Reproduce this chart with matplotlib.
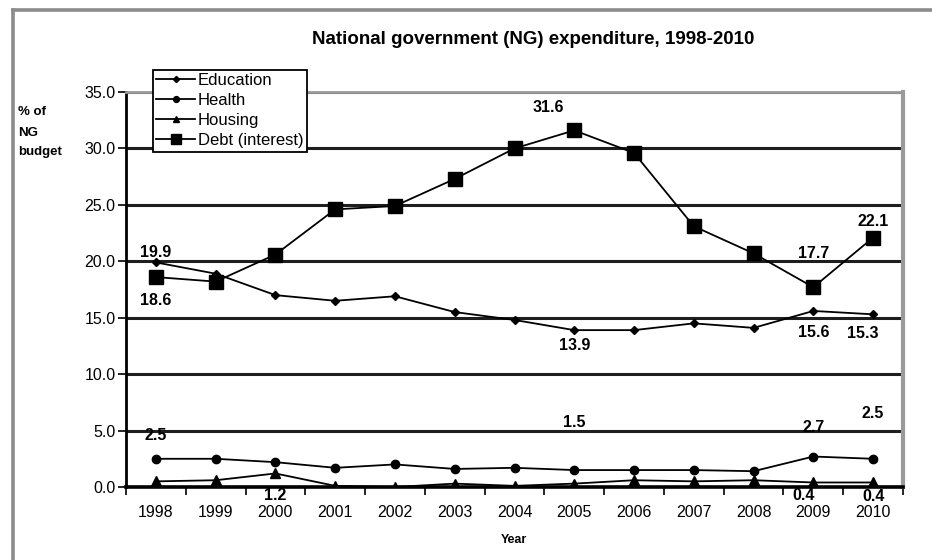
import matplotlib
matplotlib.use("Agg")
import matplotlib.pyplot as plt
from matplotlib.lines import Line2D

plt.rcParams['font.family'] = ['Liberation Sans', 'DejaVu Sans']

years = [1998, 1999, 2000, 2001, 2002, 2003, 2004, 2005, 2006, 2007, 2008, 2009, 2010]
education = [19.9, 18.9, 17.0, 16.5, 16.9, 15.5, 14.8, 13.9, 13.9, 14.5, 14.1, 15.6, 15.3]
health = [2.5, 2.5, 2.2, 1.7, 2.0, 1.6, 1.7, 1.5, 1.5, 1.5, 1.4, 2.7, 2.5]
housing = [0.5, 0.6, 1.2, 0.1, 0.0, 0.3, 0.1, 0.3, 0.6, 0.5, 0.6, 0.4, 0.4]
debt = [18.6, 18.2, 20.6, 24.6, 24.9, 27.3, 30.0, 31.6, 29.6, 23.1, 20.7, 17.7, 22.1]
y_ticks = [0, 5, 10, 15, 20, 25, 30, 35]

# labelled points: (series, year, pixel offset of label centre)
labels = [
    (education, 1998, (0, 10)),
    (debt, 1998, (0, -23)),
    (debt, 2005, (-26, 23)),
    (education, 2005, (0, -15)),
    (debt, 2009, (0, 34)),
    (debt, 2010, (0, 16)),
    (education, 2009, (0, -22)),
    (education, 2010, (-10, -19)),
    (health, 1998, (0, 23)),
    (health, 2005, (0, 48)),
    (health, 2009, (0, 29)),
    (health, 2010, (0, 45)),
    (housing, 2000, (0, -22)),
    (housing, 2009, (-10, -13)),
    (housing, 2010, (0, -14)),
]

W, H = 932, 560
fig = plt.figure(figsize=(W / 100, H / 100), dpi=100)

# outer chart frame (left and top edges)
fig.add_artist(Line2D([13 / W, 13 / W], [0, 1 - 10 / H], transform=fig.transFigure,
                      color='#8c8c8c', lw=2.6))
fig.add_artist(Line2D([13 / W, 1], [1 - 10 / H, 1 - 10 / H], transform=fig.transFigure,
                      color='#8c8c8c', lw=2.6))

left, right, bottom, top = 126, 903, 487, 92
ax = fig.add_axes([left / W, 1 - bottom / H, (right - left) / W, (bottom - top) / H])

ax.set_xlim(1997.5, 2010.5)
ax.set_ylim(0, 35)

for v in y_ticks[1:]:
    ax.axhline(v, color='#1e1e1e', lw=2.2, zorder=1)

ax.plot(years, education, color='black', lw=1.3, marker='D', ms=4.5, zorder=3, label='Education')
ax.plot(years, health, color='black', lw=1.3, marker='o', ms=6, zorder=3, label='Health')
ax.plot(years, housing, color='black', lw=1.3, marker='^', ms=6.5, zorder=3, label='Housing')
ax.plot(years, debt, color='black', lw=1.3, marker='s', ms=10, zorder=3, label='Debt (interest)')

for series, yr, (dx, dy) in labels:
    val = series[years.index(yr)]
    ax.annotate(f"{val:.1f}", (yr, val), xytext=(dx, dy), textcoords='offset pixels',
                ha='center', va='center', fontsize=11.5, fontweight='bold', zorder=5)

# spines
ax.spines['left'].set_color('black')
ax.spines['left'].set_linewidth(2.0)
ax.spines['bottom'].set_color('black')
ax.spines['bottom'].set_linewidth(2.6)
ax.spines['bottom'].set_zorder(4)
ax.spines['right'].set_color('#9a9a9a')
ax.spines['right'].set_linewidth(3.0)
ax.spines['top'].set_color('#9a9a9a')
ax.spines['top'].set_linewidth(2.0)

ax.set_yticks(y_ticks)
ax.set_yticklabels([f"{v:.1f}" for v in y_ticks], fontsize=11.5)
ax.tick_params(axis='y', direction='out', length=6, width=1.2, pad=1.5, colors='black')

ax.set_xticks(years)
ax.set_xticklabels([str(y) for y in years], fontsize=11.5)
ax.tick_params(axis='x', which='major', length=0, pad=13)
ax.set_xticks([y + 0.5 for y in years[:-1]] + [1997.5, 2010.5], minor=True)
ax.tick_params(axis='x', which='minor', direction='out', length=6, width=1.2, colors='black')

fig.text(514 / W, 1 - 540 / H, "Year", ha='center', va='center', fontsize=9, fontweight='bold')
fig.text(18 / W, 1 - 112 / H, "% of", ha='left', va='center', fontsize=9.5, fontweight='bold')
fig.text(18 / W, 1 - 133 / H, "NG", ha='left', va='center', fontsize=9.5, fontweight='bold')
fig.text(18 / W, 1 - 152 / H, "budget", ha='left', va='center', fontsize=9.5, fontweight='bold')

fig.text(533 / W, 1 - 40 / H, "National government (NG) expenditure, 1998-2010",
         ha='center', va='center', fontsize=13.5, fontweight='bold')

leg = ax.legend(loc='upper left', bbox_to_anchor=(153 / W, 1 - 70 / H),
                bbox_transform=fig.transFigure, fontsize=12, frameon=True,
                fancybox=False, framealpha=1, edgecolor='black', borderpad=0.2,
                labelspacing=0.3, handlelength=2.3, handletextpad=0.2, borderaxespad=0,
                markerscale=0.7)
leg.get_frame().set_linewidth(1.3)
leg.set_zorder(6)

fig.savefig("out.png", dpi=100)
